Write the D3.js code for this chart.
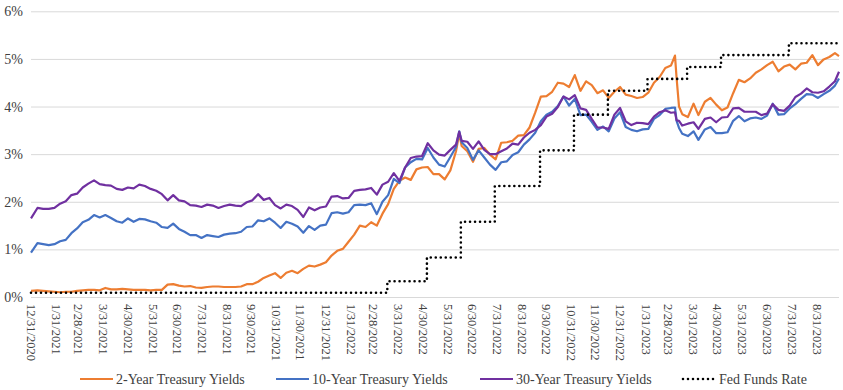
<!DOCTYPE html>
<html><head><meta charset="utf-8">
<script src="https://cdn.jsdelivr.net/npm/d3@7"></script>
<style>
body{margin:0;background:#fff}
svg{display:block}
text{font-family:"Liberation Serif","Times New Roman",serif;fill:#404040}
</style>
</head><body>
<svg id="chart" width="843" height="390" font-family="Liberation Serif"></svg>
<script>
// ---------- DATA ----------
const dates = [
"2020-12-31",
"2021-01-08","2021-01-15","2021-01-22","2021-01-29","2021-02-05","2021-02-12","2021-02-19","2021-02-26",
"2021-03-05","2021-03-12","2021-03-19","2021-03-26","2021-04-02","2021-04-09","2021-04-16","2021-04-23","2021-04-30",
"2021-05-07","2021-05-14","2021-05-21","2021-05-28","2021-06-04","2021-06-11","2021-06-18","2021-06-25",
"2021-07-02","2021-07-09","2021-07-16","2021-07-23","2021-07-30","2021-08-06","2021-08-13","2021-08-20","2021-08-27",
"2021-09-03","2021-09-10","2021-09-17","2021-09-24","2021-10-01","2021-10-08","2021-10-15","2021-10-22","2021-10-29",
"2021-11-05","2021-11-12","2021-11-19","2021-11-26","2021-12-03","2021-12-10","2021-12-17","2021-12-24","2021-12-31",
"2022-01-07","2022-01-14","2022-01-21","2022-01-28","2022-02-04","2022-02-11","2022-02-18","2022-02-25",
"2022-03-04","2022-03-11","2022-03-18","2022-03-25","2022-04-01","2022-04-08","2022-04-15","2022-04-22","2022-04-29",
"2022-05-06","2022-05-13","2022-05-20","2022-05-27","2022-06-03","2022-06-10","2022-06-14","2022-06-17","2022-06-24",
"2022-07-01","2022-07-08","2022-07-15","2022-07-22","2022-07-29","2022-08-05","2022-08-12","2022-08-19","2022-08-26",
"2022-09-02","2022-09-09","2022-09-16","2022-09-23","2022-09-30","2022-10-07","2022-10-14","2022-10-21","2022-10-28",
"2022-11-04","2022-11-11","2022-11-18","2022-11-25","2022-12-02","2022-12-09","2022-12-16","2022-12-23","2022-12-30",
"2023-01-06","2023-01-13","2023-01-20","2023-01-27","2023-02-03","2023-02-10","2023-02-17","2023-02-24",
"2023-03-03","2023-03-08","2023-03-10","2023-03-13","2023-03-17","2023-03-24","2023-03-31",
"2023-04-06","2023-04-14","2023-04-21","2023-04-28","2023-05-05","2023-05-12","2023-05-19","2023-05-26",
"2023-06-02","2023-06-09","2023-06-16","2023-06-23","2023-06-30","2023-07-07","2023-07-14","2023-07-21","2023-07-28",
"2023-08-04","2023-08-11","2023-08-18","2023-08-25","2023-09-01","2023-09-08","2023-09-15","2023-09-22","2023-09-27"
];

const twoYear = [
0.13,
0.14,0.13,0.12,0.11,0.10,0.11,0.11,0.13,
0.14,0.15,0.15,0.14,0.19,0.16,0.16,0.17,0.16,
0.15,0.15,0.15,0.14,0.15,0.15,0.26,0.27,
0.24,0.22,0.23,0.20,0.19,0.21,0.22,0.22,0.21,
0.21,0.21,0.22,0.27,0.27,0.32,0.40,0.45,0.50,
0.40,0.51,0.55,0.50,0.59,0.66,0.64,0.68,0.73,
0.87,0.97,1.01,1.16,1.31,1.50,1.47,1.57,
1.50,1.75,1.95,2.27,2.44,2.51,2.46,2.68,2.72,
2.73,2.58,2.58,2.47,2.66,3.06,3.43,3.17,3.06,
2.84,3.11,3.13,2.99,2.89,3.24,3.25,3.28,3.39,
3.40,3.56,3.87,4.21,4.22,4.31,4.50,4.48,4.41,
4.66,4.33,4.53,4.45,4.28,4.34,4.18,4.31,4.41,
4.25,4.22,4.18,4.20,4.29,4.50,4.62,4.81,
4.86,5.07,4.60,4.00,3.84,3.78,4.06,
3.82,4.10,4.18,4.04,3.92,3.98,4.28,4.56,
4.51,4.59,4.71,4.78,4.87,4.94,4.74,4.84,4.88,
4.78,4.90,4.92,5.08,4.87,4.99,5.04,5.12,5.06
];

const tenYear = [
0.93,
1.13,1.11,1.09,1.11,1.17,1.20,1.34,1.44,
1.57,1.62,1.72,1.67,1.72,1.66,1.59,1.56,1.65,
1.58,1.64,1.63,1.59,1.56,1.47,1.45,1.54,
1.43,1.37,1.30,1.30,1.24,1.30,1.28,1.26,1.31,
1.33,1.34,1.37,1.47,1.48,1.61,1.59,1.65,1.56,
1.45,1.58,1.54,1.48,1.35,1.49,1.41,1.50,1.52,
1.76,1.78,1.75,1.78,1.93,1.94,1.93,1.97,
1.74,2.00,2.14,2.48,2.39,2.72,2.83,2.90,2.89,
3.13,2.93,2.78,2.74,2.94,3.15,3.48,3.25,3.13,
2.88,3.08,2.93,2.78,2.67,2.83,2.85,2.98,3.04,
3.20,3.31,3.45,3.69,3.83,3.89,4.01,4.21,4.02,
4.16,3.82,3.83,3.68,3.51,3.58,3.48,3.75,3.88,
3.57,3.51,3.48,3.52,3.53,3.74,3.82,3.95,
3.97,3.98,3.70,3.55,3.43,3.38,3.48,
3.30,3.52,3.57,3.44,3.44,3.46,3.70,3.80,
3.69,3.75,3.77,3.74,3.81,4.06,3.83,3.84,3.96,
4.05,4.16,4.26,4.25,4.18,4.26,4.33,4.44,4.59
];

const thirtyYear = [
1.65,
1.87,1.85,1.85,1.87,1.96,2.01,2.14,2.17,
2.30,2.38,2.45,2.37,2.35,2.34,2.27,2.25,2.30,
2.28,2.36,2.33,2.27,2.23,2.16,2.03,2.14,
2.03,2.01,1.93,1.92,1.89,1.94,1.92,1.87,1.91,
1.94,1.92,1.91,1.99,2.03,2.16,2.04,2.08,1.93,
1.86,1.94,1.91,1.83,1.68,1.88,1.82,1.88,1.90,
2.11,2.12,2.07,2.08,2.23,2.25,2.26,2.29,
2.15,2.36,2.42,2.60,2.44,2.72,2.92,2.95,2.96,
3.23,3.08,2.99,2.97,3.09,3.20,3.47,3.28,3.26,
3.11,3.27,3.09,3.00,3.00,3.06,3.12,3.22,3.20,
3.35,3.45,3.51,3.61,3.79,3.85,3.99,4.21,4.15,
4.24,3.96,3.93,3.74,3.56,3.56,3.53,3.83,3.97,
3.69,3.61,3.66,3.65,3.63,3.79,3.88,3.92,
3.87,3.88,3.71,3.70,3.60,3.64,3.67,
3.53,3.74,3.77,3.67,3.77,3.78,3.96,3.97,
3.89,3.89,3.89,3.82,3.85,4.05,3.93,3.91,4.02,
4.20,4.27,4.38,4.30,4.29,4.32,4.42,4.53,4.73
];

const fedDates = ["2020-12-31","2022-03-17","2022-05-05","2022-06-16","2022-07-28","2022-09-22",
  "2022-11-03","2022-12-15","2023-02-02","2023-03-23","2023-05-04","2023-07-27","2023-09-27"];
const fedFunds = [0.09,0.33,0.83,1.58,2.33,3.08,3.83,4.33,4.58,4.83,5.08,5.33,5.33];

const xTickLabels = ["12/31/2020","1/31/2021","2/28/2021","3/31/2021","4/30/2021","5/31/2021","6/30/2021",
  "7/31/2021","8/31/2021","9/30/2021","10/31/2021","11/30/2021","12/31/2021","1/31/2022","2/28/2022",
  "3/31/2022","4/30/2022","5/31/2022","6/30/2022","7/31/2022","8/31/2022","9/30/2022","10/31/2022",
  "11/30/2022","12/31/2022","1/31/2023","2/28/2023","3/31/2023","4/30/2023","5/31/2023","6/30/2023",
  "7/31/2023","8/31/2023"];
const yTicks = [0,1,2,3,4,5,6];

const seriesNames = ["2-Year Treasury Yields","10-Year Treasury Yields","30-Year Treasury Yields","Fed Funds Rate"];
const seriesColors = ["#ED7D31","#4472C4","#7030A0","#000000"];

// ---------- CHART ----------
const FONT = "Liberation Serif";
const svg = d3.select("#chart");
const parse = d3.timeParse("%Y-%m-%d");
const parseTick = d3.timeParse("%m/%d/%Y");
const plot = {left:31, right:839, top:11.3, bottom:297};

const x = d3.scaleTime()
  .domain([parse("2020-12-31"), parse("2023-09-27")])
  .range([plot.left, plot.right]);
const y = d3.scaleLinear().domain([0,6]).range([plot.bottom, plot.top]);

// gridlines + y labels
const yAxis = d3.axisLeft(y).tickValues(yTicks).tickSize(-(plot.right-plot.left)).tickFormat(d => d + "%").tickPadding(8);
const gy = svg.append("g").attr("transform", `translate(${plot.left},0)`).call(yAxis)
  .attr("font-family", FONT);
gy.select(".domain").remove();
gy.selectAll(".tick line").attr("stroke","#D9D9D9").attr("stroke-width",1);
gy.selectAll(".tick text").attr("font-size",14).attr("fill","#404040").attr("font-family", FONT);

// x axis labels
const tickDates = xTickLabels.map(parseTick);
const gx = svg.append("g").attr("transform", `translate(0,${plot.bottom})`);
gx.selectAll("text").data(tickDates).join("text")
  .attr("transform", d => `translate(${x(d)},7) rotate(90)`)
  .attr("dy","0.35em")
  .attr("text-anchor","start")
  .attr("font-size",12.5)
  .attr("font-family", FONT)
  .attr("fill","#404040")
  .text((d,i) => xTickLabels[i]);

// lines
const pts = arr => arr.map((v,i) => ({d: parse(dates[i]), v}));
const line = d3.line().x(p => x(p.d)).y(p => y(p.v));
[twoYear, tenYear, thirtyYear].forEach((arr, k) => {
  svg.append("path").datum(pts(arr))
    .attr("fill","none").attr("stroke",seriesColors[k]).attr("stroke-width",2.2)
    .attr("stroke-linejoin","round").attr("d", line);
});
const fedPts = fedFunds.map((v,i) => ({d: parse(fedDates[i]), v}));
svg.append("path").datum(fedPts)
  .attr("fill","none").attr("stroke","#000").attr("stroke-width",2.6)
  .attr("stroke-linecap","round").attr("stroke-dasharray","0 5")
  .attr("d", d3.line().curve(d3.curveStepAfter).x(p => x(p.d)).y(p => y(p.v)));

// legend
const legendX = [80, 276, 480, 683];
const legendY = 379;
const lg = svg.append("g");
seriesNames.forEach((name, k) => {
  const l = lg.append("line").attr("x1",legendX[k]).attr("x2",legendX[k]+33)
    .attr("y1",legendY).attr("y2",legendY).attr("stroke",seriesColors[k]);
  if (k === 3) l.attr("stroke-width",2.6).attr("stroke-linecap","round").attr("stroke-dasharray","0 5");
  else l.attr("stroke-width",2.2);
  lg.append("text").attr("x",legendX[k]+36).attr("y",legendY).attr("dy","0.35em")
    .attr("font-size",14).attr("font-family", FONT).attr("fill","#404040").text(name);
});
</script>
</body></html>
